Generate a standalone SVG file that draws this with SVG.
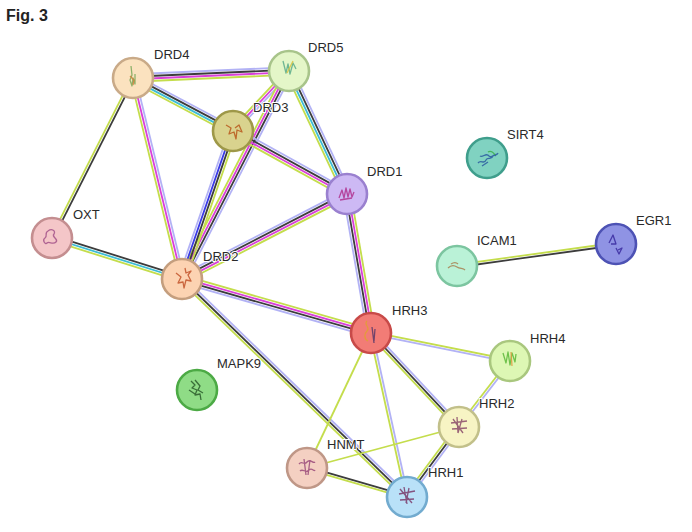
<svg xmlns="http://www.w3.org/2000/svg" width="692" height="532" viewBox="0 0 692 532">
<style>
.e line{stroke-width:1.8;fill:none}
.yg{stroke:#c4dd4c}.bk{stroke:#3c3c3c}.mg{stroke:#d93fd9}.lv{stroke:#b2b2f5}.cy{stroke:#3cbcd6}.bl{stroke:#3a3ae6}
.n circle{stroke-width:2.6}
.n path{fill:none;stroke-width:1.3;stroke-linejoin:round;opacity:.85}
.n text{font-family:"Liberation Sans",Arial,sans-serif;font-size:13px;fill:#2a2a2a;stroke:#fff;stroke-width:2;paint-order:stroke}
.title{font-family:"Liberation Sans",Arial,sans-serif;font-size:16px;font-weight:bold;fill:#222}
</style>
<rect width="692" height="532" fill="#fff"/>
<text class="title" x="6" y="21">Fig. 3</text>
<g id="edges" class="e">
  <g transform="translate(133 78) rotate(-2.57)"><line class="lv" x2="156.2" y1="-3.75" y2="-3.75"/><line class="bk" x2="156.2" y1="-1.25" y2="-1.25"/><line class="mg" x2="156.2" y1="1.25" y2="1.25"/><line class="yg" x2="156.2" y1="3.75" y2="3.75"/></g>
  <g transform="translate(133 78) rotate(27.92)"><line class="lv" x2="113.2" y1="-3.75" y2="-3.75"/><line class="bk" x2="113.2" y1="-1.25" y2="-1.25"/><line class="cy" x2="113.2" y1="1.25" y2="1.25"/><line class="yg" x2="113.2" y1="3.75" y2="3.75"/></g>
  <g transform="translate(133 78) rotate(76.3)"><line class="yg" x2="206.9" y1="2.5" y2="2.5"/><line class="mg" x2="206.9" y1="0" y2="0"/><line class="lv" x2="206.9" y1="-2.5" y2="-2.5"/></g>
  <g transform="translate(133 78) rotate(116.85)"><line class="yg" x2="179.3" y1="1.25" y2="1.25"/><line class="bk" x2="179.3" y1="-1.25" y2="-1.25"/></g>
  <g transform="translate(289 71) rotate(133.03)"><line class="lv" x2="82.1" y1="-2.5" y2="-2.5"/><line class="mg" x2="82.1" y1="0" y2="0"/><line class="yg" x2="82.1" y1="2.5" y2="2.5"/></g>
  <g transform="translate(289 71) rotate(117.22)"><line class="yg" x2="233.9" y1="3.75" y2="3.75"/><line class="mg" x2="233.9" y1="1.25" y2="1.25"/><line class="bk" x2="233.9" y1="-1.25" y2="-1.25"/><line class="lv" x2="233.9" y1="-3.75" y2="-3.75"/></g>
  <g transform="translate(289 71) rotate(64.75)"><line class="yg" x2="136" y1="3.75" y2="3.75"/><line class="cy" x2="136" y1="1.25" y2="1.25"/><line class="bk" x2="136" y1="-1.25" y2="-1.25"/><line class="lv" x2="136" y1="-3.75" y2="-3.75"/></g>
  <g transform="translate(233 131) rotate(28.93)"><line class="lv" x2="130.2" y1="-3.75" y2="-3.75"/><line class="bk" x2="130.2" y1="-1.25" y2="-1.25"/><line class="mg" x2="130.2" y1="1.25" y2="1.25"/><line class="yg" x2="130.2" y1="3.75" y2="3.75"/></g>
  <g transform="translate(233 131) rotate(109.01)"><line class="lv" x2="156.5" y1="3.75" y2="3.75"/><line class="bl" x2="156.5" y1="1.25" y2="1.25"/><line class="bk" x2="156.5" y1="-1.25" y2="-1.25"/><line class="yg" x2="156.5" y1="-3.75" y2="-3.75"/></g>
  <g transform="translate(347 194) rotate(152.75)"><line class="lv" x2="185.6" y1="3.75" y2="3.75"/><line class="bk" x2="185.6" y1="1.25" y2="1.25"/><line class="mg" x2="185.6" y1="-1.25" y2="-1.25"/><line class="yg" x2="185.6" y1="-3.75" y2="-3.75"/></g>
  <g transform="translate(347 194) rotate(80.2)"><line class="lv" x2="141.1" y1="3.75" y2="3.75"/><line class="bk" x2="141.1" y1="1.25" y2="1.25"/><line class="mg" x2="141.1" y1="-1.25" y2="-1.25"/><line class="yg" x2="141.1" y1="-3.75" y2="-3.75"/></g>
  <g transform="translate(52 238) rotate(17.5)"><line class="bk" x2="136.3" y1="-2.5" y2="-2.5"/><line class="cy" x2="136.3" y1="0" y2="0"/><line class="yg" x2="136.3" y1="2.5" y2="2.5"/></g>
  <g transform="translate(182 279) rotate(15.95)"><line class="yg" x2="196.6" y1="-3.75" y2="-3.75"/><line class="mg" x2="196.6" y1="-1.25" y2="-1.25"/><line class="bk" x2="196.6" y1="1.25" y2="1.25"/><line class="lv" x2="196.6" y1="3.75" y2="3.75"/></g>
  <g transform="translate(182 279) rotate(44.1)"><line class="yg" x2="313.3" y1="2.5" y2="2.5"/><line class="bk" x2="313.3" y1="0" y2="0"/><line class="lv" x2="313.3" y1="-2.5" y2="-2.5"/></g>
  <g transform="translate(371 333) rotate(11.39)"><line class="yg" x2="141.8" y1="-1.25" y2="-1.25"/><line class="lv" x2="141.8" y1="1.25" y2="1.25"/></g>
  <g transform="translate(371 333) rotate(46.89)"><line class="yg" x2="128.8" y1="2.5" y2="2.5"/><line class="bk" x2="128.8" y1="0" y2="0"/><line class="lv" x2="128.8" y1="-2.5" y2="-2.5"/></g>
  <g transform="translate(371 333) rotate(77.62)"><line class="yg" x2="167.9" y1="1.25" y2="1.25"/><line class="lv" x2="167.9" y1="-1.25" y2="-1.25"/></g>
  <line class="yg" x1="371" y1="333" x2="307" y2="468"/>
  <g transform="translate(510 361) rotate(127.69)"><line class="yg" x2="83.4" y1="1.25" y2="1.25"/><line class="lv" x2="83.4" y1="-1.25" y2="-1.25"/></g>
  <g transform="translate(459 427) rotate(126.61)"><line class="yg" x2="87.2" y1="2.5" y2="2.5"/><line class="bk" x2="87.2" y1="0" y2="0"/><line class="lv" x2="87.2" y1="-2.5" y2="-2.5"/></g>
  <line class="yg" x1="459" y1="427" x2="307" y2="468"/>
  <g transform="translate(307 468) rotate(16.17)"><line class="bk" x2="104.1" y1="-1.25" y2="-1.25"/><line class="yg" x2="104.1" y1="1.25" y2="1.25"/></g>
  <g transform="translate(457 266) rotate(-7.88)"><line class="yg" x2="160.5" y1="-1.25" y2="-1.25"/><line class="bk" x2="160.5" y1="1.25" y2="1.25"/></g>
</g>
<g id="DRD4" class="n" transform="translate(133 78)"><circle r="20" fill="#fbe2bf" stroke="#c9aa88"/><path d="M-2,-12 l1,9 l-2,5 l2,6 l1,-8 l2,6 l0,-10" stroke="#7aa85a"/><path d="M-3,-2 l4,4 l-1,5" stroke="#d0803a"/><text x="21" y="-19">DRD4</text></g>
<g id="DRD5" class="n" transform="translate(289 71)"><circle r="20" fill="#e4f6c8" stroke="#a8c48a"/><path d="M-6,-10 l3,12 l2,-9 l2,10 l3,-11 l3,6" stroke="#5aab8a"/><path d="M-2,2 l6,-12" stroke="#d8c23a"/><text x="19" y="-19">DRD5</text></g>
<g id="DRD3" class="n" transform="translate(233 131)"><circle r="20" fill="#d9d38e" stroke="#9e9848"/><path d="M-7,-6 l5,3 l-2,6 l5,-2 l2,7 l1,-9 l5,2 l-3,-7 l-4,3" stroke="#b8581c"/><text x="20" y="-19">DRD3</text></g>
<g id="DRD1" class="n" transform="translate(347 194)"><circle r="20" fill="#cdb9f4" stroke="#9a80cf"/><path d="M-8,4 l3,-8 l2,8 l2,-10 l2,9 l2,-8 l2,8 l2,-5" stroke="#b0338f"/><path d="M-7,6 l12,-2" stroke="#b0338f"/><text x="20" y="-18">DRD1</text></g>
<g id="OXT" class="n" transform="translate(52 238)"><circle r="20" fill="#f4c6c8" stroke="#c48e90"/><path d="M-4,-7 c4,-3 8,0 6,3 c-3,3 5,5 2,8 c-3,3 -7,-1 -9,1 c-2,2 -5,-3 -2,-5 c3,-2 -1,-5 3,-7" stroke="#a3528a"/><text x="21" y="-19">OXT</text></g>
<g id="DRD2" class="n" transform="translate(182 279)"><circle r="20" fill="#fcd3b2" stroke="#c49e7e"/><path d="M-6,-6 l5,4 l-3,6 l5,-1 l1,6 l2,-8 l5,1 l-3,-6 l3,-4 l-5,2 l-1,-5" stroke="#c2542a"/><text x="21" y="-18">DRD2</text></g>
<g id="HRH3" class="n" transform="translate(371 333)"><circle r="20" fill="#f27c76" stroke="#c84a48"/><path d="M-4,-12 c-4,4 4,6 0,10 c-3,3 -3,8 1,10" stroke="#e0a030"/><path d="M1,-6 l2,16 M4,-4 l-1,12" stroke="#5a3a6a"/><text x="21" y="-18">HRH3</text></g>
<g id="HRH4" class="n" transform="translate(510 361)"><circle r="20" fill="#ddf7b4" stroke="#a9c77e"/><path d="M-7,-8 l3,10 l2,-11 l2,13 l2,-12 l3,9 l1,-8" stroke="#5cb83a"/><path d="M1,-9 l1,14" stroke="#e09a40"/><text x="20" y="-18">HRH4</text></g>
<g id="HRH2" class="n" transform="translate(459 427)"><circle r="20" fill="#f7f4c4" stroke="#c2c08a"/><path d="M-8,-4 l16,-2 M-7,2 l15,-1 M-2,-10 l1,16 M3,-8 l-4,14 M-6,-8 l10,14" stroke="#8a4a6a"/><text x="20" y="-19">HRH2</text></g>
<g id="HNMT" class="n" transform="translate(307 468)"><circle r="20" fill="#f4d0c2" stroke="#bf9787"/><path d="M-8,-4 c3,-4 5,2 8,-2 c3,-4 6,2 8,0 M-7,3 c3,-3 6,3 9,-1 c3,-3 5,2 6,0 M-3,-9 l2,16 M3,-8 l-2,15" stroke="#9a4a7a"/><text x="20" y="-19">HNMT</text></g>
<g id="HRH1" class="n" transform="translate(407 497)"><circle r="20" fill="#b9e1f8" stroke="#72abcf"/><path d="M-8,-3 l16,-3 M-7,3 l14,-1 M-3,-10 l3,17 M2,-9 l-3,15 M-7,-8 l12,14" stroke="#7a3a6a"/><text x="21" y="-20">HRH1</text></g>
<g id="MAPK9" class="n" transform="translate(197 390)"><circle r="20" fill="#8fdc86" stroke="#4caa45"/><path d="M-6,-9 l4,4 l-3,3 l5,2 l-2,5 l5,-1 l1,6 M-2,-10 l5,6 l-2,4 l5,3 M-8,0 l6,4" stroke="#2a5a2a"/><text x="20" y="-22">MAPK9</text></g>
<g id="SIRT4" class="n" transform="translate(487 158)"><circle r="20" fill="#80d2c1" stroke="#3f9e8c"/><path d="M-9,5 c3,-4 6,2 8,-3 c2,-4 5,1 7,-4 c2,-3 4,0 5,-3 M-7,-2 c3,2 6,-4 9,0 c2,3 5,-3 7,0 M-5,8 l6,-4" stroke="#2a5aa0"/><path d="M1,-6 c3,-2 6,1 7,3" stroke="#3ab04a"/><text x="20" y="-19">SIRT4</text></g>
<g id="ICAM1" class="n" transform="translate(457 266)"><circle r="20" fill="#baf2d7" stroke="#7cc5a0"/><path d="M-9,2 c3,-3 6,-3 9,-1 c3,2 6,1 8,3 M-6,-2 c3,-2 5,-2 7,0" stroke="#a88050"/><text x="20" y="-21">ICAM1</text></g>
<g id="EGR1" class="n" transform="translate(616 244)"><circle r="20" fill="#8f93e4" stroke="#4d52b4"/><path d="M-7,-1 l4,-8 l3,9 l-5,0 M0,4 l3,6 l3,-6 l-4,2" stroke="#3a2aa0"/><text x="20" y="-19">EGR1</text></g>
</svg>
